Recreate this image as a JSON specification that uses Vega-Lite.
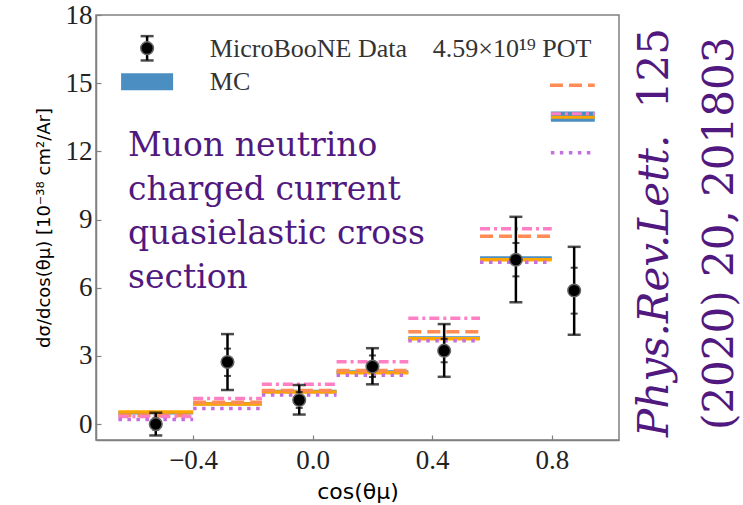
{
  "$schema": "https://vega.github.io/schema/vega-lite/v6.json",
  "width": 523,
  "height": 425,
  "autosize": "none",
  "padding": {"left": 96, "top": 15, "right": 124, "bottom": 65},
  "background": "white",
  "config": {
    "view": {"stroke": "#808080", "strokeWidth": 1.5},
    "axis": {
      "domainColor": "#808080",
      "domainWidth": 1.5,
      "tickColor": "#808080",
      "tickWidth": 1.2,
      "tickSize": -5,
      "grid": false,
      "labelFont": "Liberation Serif",
      "labelFontSize": 27,
      "labelColor": "#222222",
      "titleColor": "#000000",
      "titleFontWeight": "normal"
    }
  },
  "datasets": {
    "mc": [
      {"model": "MC", "lo": -0.65, "hi": -0.4, "value": 0.5},
      {"model": "MC", "lo": -0.4, "hi": -0.17, "value": 0.9},
      {"model": "MC", "lo": -0.17, "hi": 0.08, "value": 1.43},
      {"model": "MC", "lo": 0.08, "hi": 0.32, "value": 2.29},
      {"model": "MC", "lo": 0.32, "hi": 0.56, "value": 3.79},
      {"model": "MC", "lo": 0.56, "hi": 0.8, "value": 7.31},
      {"model": "GENIE v3", "lo": -0.65, "hi": -0.4, "value": 0.53},
      {"model": "GENIE v3", "lo": -0.4, "hi": -0.17, "value": 0.88},
      {"model": "GENIE v3", "lo": -0.17, "hi": 0.08, "value": 1.41},
      {"model": "GENIE v3", "lo": 0.08, "hi": 0.32, "value": 2.26},
      {"model": "GENIE v3", "lo": 0.32, "hi": 0.56, "value": 3.75},
      {"model": "GENIE v3", "lo": 0.56, "hi": 0.8, "value": 7.23},
      {"model": "GENIE alt", "lo": -0.65, "hi": -0.4, "value": 0.38},
      {"model": "GENIE alt", "lo": -0.4, "hi": -0.17, "value": 0.96},
      {"model": "GENIE alt", "lo": -0.17, "hi": 0.08, "value": 1.48},
      {"model": "GENIE alt", "lo": 0.08, "hi": 0.32, "value": 2.36},
      {"model": "GENIE alt", "lo": 0.32, "hi": 0.56, "value": 4.06},
      {"model": "GENIE alt", "lo": 0.56, "hi": 0.8, "value": 8.26},
      {"model": "NuWro", "lo": -0.65, "hi": -0.4, "value": 0.33},
      {"model": "NuWro", "lo": -0.4, "hi": -0.17, "value": 1.13},
      {"model": "NuWro", "lo": -0.17, "hi": 0.08, "value": 1.75},
      {"model": "NuWro", "lo": 0.08, "hi": 0.32, "value": 2.74},
      {"model": "NuWro", "lo": 0.32, "hi": 0.56, "value": 4.66},
      {"model": "NuWro", "lo": 0.56, "hi": 0.8, "value": 8.6},
      {"model": "GiBUU", "lo": -0.65, "hi": -0.4, "value": 0.2},
      {"model": "GiBUU", "lo": -0.4, "hi": -0.17, "value": 0.69},
      {"model": "GiBUU", "lo": -0.17, "hi": 0.08, "value": 1.28},
      {"model": "GiBUU", "lo": 0.08, "hi": 0.32, "value": 2.15},
      {"model": "GiBUU", "lo": 0.32, "hi": 0.56, "value": 3.67},
      {"model": "GiBUU", "lo": 0.56, "hi": 0.8, "value": 7.12}
    ],
    "pts": [
      {"x": -0.525, "y": 0.0, "tlo": -0.5, "thi": 0.5, "slo": -0.25, "shi": 0.25},
      {"x": -0.285, "y": 2.73, "tlo": 1.5, "thi": 3.96, "slo": 2.12, "shi": 3.32},
      {"x": -0.045, "y": 1.06, "tlo": 0.42, "thi": 1.72, "slo": 0.71, "shi": 1.41},
      {"x": 0.2, "y": 2.53, "tlo": 1.75, "thi": 3.34, "slo": 2.07, "shi": 3.02},
      {"x": 0.44, "y": 3.23, "tlo": 2.08, "thi": 4.4, "slo": 2.72, "shi": 3.75},
      {"x": 0.68, "y": 7.23, "tlo": 5.36, "thi": 9.12, "slo": 6.5, "shi": 7.97},
      {"x": 0.875, "y": 5.88, "tlo": 3.93, "thi": 7.8, "slo": 4.86, "shi": 6.88}
    ]
  },
  "layer": [
    {
      "data": {"name": "mc"},
      "mark": {"type": "rule", "strokeWidth": 3.5},
      "encoding": {
        "x": {"field": "lo", "type": "quantitative",
          "scale": {"domain": [-0.725, 1.025], "nice": false, "zero": false},
          "axis": {"values": [-0.4, 0.0, 0.4, 0.8], "format": ".1f", "title": "cos(θμ)",
            "titleFont": "DejaVu Sans", "titleFontSize": 22, "titlePadding": 8, "labelPadding": 12}},
        "x2": {"field": "hi"},
        "y": {"field": "value", "type": "quantitative",
          "scale": {"domain": [-0.7, 18], "nice": false, "zero": false},
          "axis": {"values": [0, 3, 6, 9, 12, 15, 18], "format": "d",
            "title": "dσ/dcos(θμ)  [10⁻³⁸ cm²/Ar]",
            "titleFont": "DejaVu Sans", "titleFontSize": 18, "titlePadding": 12, "labelPadding": 9}},
        "color": {"field": "model", "type": "nominal", "legend": null,
          "scale": {"domain": ["MC", "GENIE v3", "GENIE alt", "NuWro", "GiBUU"],
            "range": ["#4a8ec2", "#ffa500", "#ff8c55", "#ff7fc4", "#c46ee0"]}},
        "strokeDash": {"field": "model", "type": "nominal", "legend": null,
          "scale": {"domain": ["MC", "GENIE v3", "GENIE alt", "NuWro", "GiBUU"],
            "range": [[1, 0], [1, 0], [13, 6], [10, 4, 3, 4], [3.5, 5.5]]}}
      }
    },
    {
      "data": {"name": "pts"},
      "mark": {"type": "rule", "color": "black", "strokeWidth": 2.5},
      "encoding": {
        "x": {"field": "x", "type": "quantitative"},
        "y": {"field": "tlo", "type": "quantitative"},
        "y2": {"field": "thi"}
      }
    },
    {
      "data": {"name": "pts"},
      "mark": {"type": "tick", "orient": "horizontal", "color": "black", "size": 13, "thickness": 2.5},
      "encoding": {
        "x": {"field": "x", "type": "quantitative"},
        "y": {"field": "tlo", "type": "quantitative"}
      }
    },
    {
      "data": {"name": "pts"},
      "mark": {"type": "tick", "orient": "horizontal", "color": "black", "size": 13, "thickness": 2.5},
      "encoding": {
        "x": {"field": "x", "type": "quantitative"},
        "y": {"field": "thi", "type": "quantitative"}
      }
    },
    {
      "data": {"name": "pts"},
      "mark": {"type": "tick", "orient": "horizontal", "color": "black", "size": 7, "thickness": 2},
      "encoding": {
        "x": {"field": "x", "type": "quantitative"},
        "y": {"field": "slo", "type": "quantitative"}
      }
    },
    {
      "data": {"name": "pts"},
      "mark": {"type": "tick", "orient": "horizontal", "color": "black", "size": 7, "thickness": 2},
      "encoding": {
        "x": {"field": "x", "type": "quantitative"},
        "y": {"field": "shi", "type": "quantitative"}
      }
    },
    {
      "data": {"name": "pts"},
      "mark": {"type": "point", "shape": "circle", "filled": true, "color": "black", "size": 160, "stroke": "#666666", "strokeWidth": 1.5, "opacity": 1},
      "encoding": {
        "x": {"field": "x", "type": "quantitative"},
        "y": {"field": "y", "type": "quantitative"}
      }
    },
    {
      "data": {"values": [{}]},
      "mark": {"type": "rule", "color": "black", "strokeWidth": 2.5},
      "encoding": {"x": {"datum": -0.554, "type": "quantitative"}, "y": {"datum": 16.0, "type": "quantitative"}, "y2": {"datum": 17.07}}
    },
    {
      "data": {"values": [{}]},
      "mark": {"type": "tick", "orient": "horizontal", "color": "black", "size": 13, "thickness": 2.5},
      "encoding": {"x": {"datum": -0.554, "type": "quantitative"}, "y": {"datum": 16.0, "type": "quantitative"}}
    },
    {
      "data": {"values": [{}]},
      "mark": {"type": "tick", "orient": "horizontal", "color": "black", "size": 13, "thickness": 2.5},
      "encoding": {"x": {"datum": -0.554, "type": "quantitative"}, "y": {"datum": 17.07, "type": "quantitative"}}
    },
    {
      "data": {"values": [{}]},
      "mark": {"type": "point", "shape": "circle", "filled": true, "color": "black", "size": 160, "stroke": "#666666", "strokeWidth": 1.5, "opacity": 1},
      "encoding": {"x": {"datum": -0.554, "type": "quantitative"}, "y": {"datum": 16.54, "type": "quantitative"}}
    },
    {
      "data": {"values": [{}]},
      "mark": {"type": "rect", "color": "#4a8ec2"},
      "encoding": {"x": {"datum": -0.641, "type": "quantitative"}, "x2": {"datum": -0.467}, "y": {"datum": 14.69, "type": "quantitative"}, "y2": {"datum": 15.44}}
    },
    {
      "data": {"values": [{}]},
      "mark": {"type": "text", "text": "MicroBooNE Data", "font": "Liberation Serif", "fontSize": 26, "color": "#333333", "align": "left", "baseline": "alphabetic"},
      "encoding": {"x": {"datum": -0.344, "type": "quantitative"}, "y": {"datum": 16.15, "type": "quantitative"}}
    },
    {
      "data": {"values": [{}]},
      "mark": {"type": "text", "text": "MC", "font": "Liberation Serif", "fontSize": 26, "color": "#333333", "align": "left", "baseline": "alphabetic"},
      "encoding": {"x": {"datum": -0.344, "type": "quantitative"}, "y": {"datum": 14.7, "type": "quantitative"}}
    },
    {
      "data": {"values": [{}]},
      "mark": {"type": "text", "text": "4.59×10¹⁹ POT", "font": "Liberation Serif", "fontSize": 26, "color": "#333333", "align": "left", "baseline": "alphabetic"},
      "encoding": {"x": {"datum": 0.402, "type": "quantitative"}, "y": {"datum": 16.15, "type": "quantitative"}}
    },
    {
      "data": {"values": [{}]},
      "mark": {"type": "rule", "color": "#ff8c55", "strokeWidth": 3.5, "strokeDash": [13, 6]},
      "encoding": {"x": {"datum": 0.794, "type": "quantitative"}, "x2": {"datum": 0.944}, "y": {"datum": 14.91, "type": "quantitative"}}
    },
    {
      "data": {"values": [{}]},
      "mark": {"type": "rect", "color": "#4a8ec2"},
      "encoding": {"x": {"datum": 0.797, "type": "quantitative"}, "x2": {"datum": 0.944}, "y": {"datum": 13.3, "type": "quantitative"}, "y2": {"datum": 13.75}}
    },
    {
      "data": {"values": [{}]},
      "mark": {"type": "rule", "color": "#ffa500", "strokeWidth": 3},
      "encoding": {"x": {"datum": 0.797, "type": "quantitative"}, "x2": {"datum": 0.944}, "y": {"datum": 13.5, "type": "quantitative"}}
    },
    {
      "data": {"values": [{}]},
      "mark": {"type": "rule", "color": "#ff7fc4", "strokeWidth": 3, "strokeDash": [10, 4, 3, 4]},
      "encoding": {"x": {"datum": 0.797, "type": "quantitative"}, "x2": {"datum": 0.944}, "y": {"datum": 13.66, "type": "quantitative"}}
    },
    {
      "data": {"values": [{}]},
      "mark": {"type": "rule", "color": "#c46ee0", "strokeWidth": 3.5, "strokeDash": [3.5, 5.5]},
      "encoding": {"x": {"datum": 0.797, "type": "quantitative"}, "x2": {"datum": 0.935}, "y": {"datum": 11.94, "type": "quantitative"}}
    },
    {
      "data": {"values": [{}]},
      "mark": {"type": "text", "text": ["Muon neutrino", "charged current", "quasielastic cross", "section"], "font": "DejaVu Serif", "fontSize": 33, "lineHeight": 44, "color": "#51197f", "align": "left", "baseline": "alphabetic"},
      "encoding": {"x": {"datum": -0.618, "type": "quantitative"}, "y": {"datum": 11.78, "type": "quantitative"}}
    },
    {
      "data": {"values": [{}]},
      "mark": {"type": "text", "text": "Phys.Rev.Lett.", "font": "DejaVu Serif", "fontStyle": "italic", "fontSize": 42, "color": "#51197f", "align": "left", "baseline": "alphabetic", "angle": 270},
      "encoding": {"x": {"datum": 1.19, "type": "quantitative"}, "y": {"datum": -0.57, "type": "quantitative"}}
    },
    {
      "data": {"values": [{}]},
      "mark": {"type": "text", "text": "125", "font": "DejaVu Serif", "fontSize": 42, "color": "#51197f", "align": "left", "baseline": "alphabetic", "angle": 270},
      "encoding": {"x": {"datum": 1.19, "type": "quantitative"}, "y": {"datum": 13.9, "type": "quantitative"}}
    },
    {
      "data": {"values": [{}]},
      "mark": {"type": "text", "text": "(2020) 20, 201803", "font": "DejaVu Serif", "fontSize": 42, "color": "#51197f", "align": "left", "baseline": "alphabetic", "angle": 270},
      "encoding": {"x": {"datum": 1.406, "type": "quantitative"}, "y": {"datum": -0.26, "type": "quantitative"}}
    }
  ]
}
